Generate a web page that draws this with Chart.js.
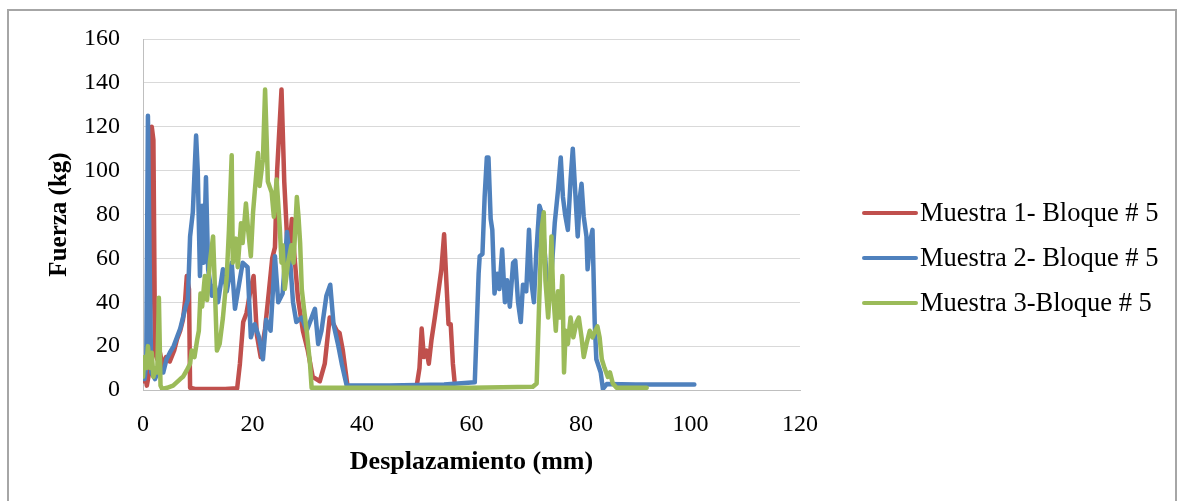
<!DOCTYPE html>
<html lang="es">
<head>
<meta charset="UTF-8">
<title>Fuerza vs desplazamiento - Bloque # 5</title>
<script src="https://cdn.jsdelivr.net/npm/chart.js"></script>
<style>
    body {
        margin: 0;
        background: #fff;
        font-family: 'Liberation Serif', 'Times New Roman', serif;
    }
    #wrap {
        position: relative;
        width: 1178px;
        height: 501px;
        overflow: hidden;
    }
    #marco {
        position: absolute;
        left: 7px;
        top: 9px;
        width: 1170px;
        height: 500px;
        border: 2px solid #a6a6a6;
        box-sizing: border-box;
        pointer-events: none;
    }
    #leyenda {
        position: absolute;
        left: 862px;
        top: 190px;
    }
    .item {
        display: flex;
        align-items: center;
        height: 45px;
        font-size: 26.5px;
        color: #000;
        white-space: nowrap;
    }
    .linea {
        display: inline-block;
        width: 56px;
        height: 4px;
        border-radius: 2px;
        margin-right: 2px;
    }
</style>
</head>
<body>
<div id="wrap">
    <canvas id="grafico" width="1178" height="501"></canvas>
    <div id="marco"></div>
    <div id="leyenda"></div>
</div>

<script>
    // [desplazamiento (mm), fuerza (kg)]
    const muestra1 = [
        [0, 4], [0.4, 7], [0.7, 2], [1.2, 9], [1.6, 120], [1.9, 114], [2.2, 17], [2.6, 14],
        [3.1, 17], [3.6, 11], [4.2, 15], [4.9, 13], [5.7, 18], [6.2, 23], [6.8, 27], [7.3, 32],
        [7.7, 41], [8.0, 52], [8.4, 46], [8.6, 1], [9.5, 0.5], [12, 0.5], [15, 0.5], [17.2, 0.8],
        [17.7, 12], [18.3, 31], [18.9, 35], [19.6, 45], [20.2, 52], [20.8, 25], [21.5, 15], [22.3, 28],
        [23.0, 45], [23.6, 60], [24.1, 65], [24.5, 100], [25.3, 137], [25.8, 95], [26.2, 75],
        [26.5, 58], [27.2, 78], [27.6, 63], [28.3, 42], [29.2, 27], [30.1, 18], [31.0, 6], [32.3, 4],
        [33.2, 12], [34.1, 33], [34.8, 30], [35.4, 27], [35.9, 26], [36.5, 18], [37.4, 1], [40, 1.2],
        [45, 1.5], [50.0, 2], [50.5, 10], [50.9, 28], [51.3, 15], [51.8, 18], [52.2, 12], [52.7, 23],
        [53.3, 33], [53.8, 42], [54.5, 55], [55.0, 71], [55.4, 50], [55.8, 30], [56.2, 30], [56.6, 12],
        [56.9, 4]
    ];
    const muestra2 = [
        [0, 10], [0.3, 5], [0.6, 12], [0.9, 125], [1.2, 60], [1.5, 8], [2.2, 5], [3, 10],
        [3.7, 8], [4.3, 14], [4.9, 17], [5.6, 20], [6.2, 24], [6.8, 28], [7.3, 33], [7.8, 38],
        [8.2, 41], [8.6, 70], [9.1, 81], [9.7, 116], [10, 100], [10.4, 52], [10.8, 84], [11.1, 58],
        [11.5, 97], [11.9, 55], [12.6, 43], [13.1, 48], [13.7, 40], [14.6, 55], [15.3, 45], [16.2, 58],
        [16.8, 37], [17.4, 46], [18.2, 58], [19.1, 56], [19.7, 24], [20.4, 30], [21.2, 24], [21.9, 14],
        [22.5, 32], [23.3, 27], [24.1, 61], [24.7, 40], [25.5, 44], [26.3, 72], [26.9, 58], [27.4, 40],
        [28, 31], [29, 33], [29.9, 27], [30.8, 33], [31.4, 37], [32, 21], [32.6, 27], [33.5, 43],
        [34.2, 48], [34.8, 30], [35.6, 21], [36.3, 12], [37.2, 2], [45, 2], [55, 2.5], [60.6, 3.5],
        [61.3, 53], [61.5, 61], [62, 62], [62.4, 88], [62.8, 106], [63.1, 106], [63.5, 78], [63.8, 73],
        [64.2, 44], [64.7, 53], [65.1, 46], [65.6, 64], [66.1, 40], [66.5, 50], [67, 38], [67.6, 58],
        [68, 59], [68.5, 40], [69, 31], [69.4, 48], [70, 45], [70.5, 73], [70.9, 50], [71.4, 40],
        [71.8, 61], [72.4, 84], [72.9, 80], [73.4, 62], [74, 43], [74.6, 53], [75.2, 76], [75.8, 91],
        [76.3, 106], [76.7, 88], [77.1, 80], [77.6, 73], [78.1, 96], [78.5, 110], [79, 88], [79.4, 70],
        [79.8, 88], [80.1, 94], [80.5, 79], [81, 70], [81.2, 55], [81.7, 68], [82.1, 73], [82.5, 31],
        [82.8, 14], [83.6, 8], [84, 0.5], [84.7, 2.7], [90, 2.5], [100.7, 2.5]
    ];
    const muestra3 = [
        [0, 6], [0.3, 15], [0.6, 10], [0.9, 20], [1.3, 10], [1.6, 17], [1.9, 6], [2.3, 10],
        [2.6, 8], [2.9, 42], [3.2, 2], [3.5, 0.5], [4.4, 1], [5.5, 2], [6.8, 5], [7.3, 6],
        [8, 9], [8.6, 12], [8.9, 18], [9.4, 15], [9.9, 23], [10.2, 27], [10.5, 44], [10.8, 38],
        [11.3, 52], [11.7, 41], [12.2, 58], [12.8, 70], [13.1, 49], [13.5, 18], [14, 21], [14.6, 33],
        [15.3, 52], [15.7, 73], [16.2, 107], [16.4, 58], [17, 69], [17.3, 56], [17.9, 76], [18.2, 67],
        [18.8, 85], [19.2, 73], [19.7, 61], [20.1, 81], [20.6, 96], [21, 108], [21.3, 93], [21.9, 105],
        [22.3, 137], [22.6, 113], [22.8, 95], [23.5, 90], [23.9, 79], [24.4, 96], [24.7, 85], [25, 73],
        [25.3, 58], [25.5, 66], [25.9, 46], [26.5, 58], [27.1, 66], [27.5, 58], [28.1, 88], [28.4, 79],
        [28.7, 67], [29, 46], [29.4, 37], [29.9, 27], [30.5, 12], [30.8, 1], [40, 1], [50, 1],
        [60, 1], [71.2, 1.5], [71.9, 3], [72.3, 35], [72.8, 73], [73.2, 81], [73.5, 50], [74, 33],
        [74.3, 45], [74.6, 70], [74.9, 45], [75.4, 27], [75.8, 45], [76.2, 33], [76.6, 52], [76.9, 8],
        [77.2, 27], [77.6, 21], [78.1, 33], [78.6, 24], [79.2, 31], [79.6, 33], [80.1, 24], [80.5, 15],
        [81, 21], [81.6, 27], [82.1, 24], [82.6, 27], [83, 29], [83.4, 24], [83.8, 14], [84.3, 10],
        [84.9, 6], [85.3, 8], [85.8, 3], [86.5, 1], [92, 1]
    ];

    const nombres = ['Muestra 1- Bloque # 5', 'Muestra 2- Bloque # 5', 'Muestra 3-Bloque # 5'];
    const colores = ['#C0504D', '#4F81BD', '#9BBB59'];
    const ejeX = { min: 0, max: 120, paso: 20, titulo: 'Desplazamiento (mm)' };
    const ejeY = { min: 0, max: 160, paso: 20, titulo: 'Fuerza (kg)' };

    const serif = "'Liberation Serif', 'Times New Roman', serif";
    const aPuntos = pares => pares.map(([x, y]) => ({ x, y }));

    const datasets = [muestra1, muestra2, muestra3].map((serie, i) => ({
        label: nombres[i],
        data: aPuntos(serie),
        borderColor: colores[i],
        backgroundColor: colores[i],
        borderWidth: 4.5,
        pointRadius: 0,
        tension: 0,
        borderJoinStyle: 'round',
        borderCapStyle: 'round',
        order: 3 - i   // la última serie queda encima
    }));

    const grafico = new Chart(document.getElementById('grafico'), {
        type: 'line',
        data: { datasets },
        options: {
            responsive: false,
            animation: false,
            layout: { padding: { left: 0, top: 39, right: 378, bottom: 0 } },
            plugins: {
                legend: { display: false },
                tooltip: { enabled: false }
            },
            scales: {
                x: {
                    type: 'linear',
                    min: ejeX.min,
                    max: ejeX.max,
                    afterFit: s => { s.height = 111; },
                    grid: { display: false, drawTicks: false },
                    border: { color: '#bfbfbf', width: 1 },
                    ticks: {
                        stepSize: ejeX.paso,
                        padding: 20,
                        color: '#000',
                        font: { family: serif, size: 24 }
                    },
                    title: {
                        display: true,
                        text: ejeX.titulo,
                        color: '#000',
                        padding: { top: 0, bottom: 23 },
                        font: { family: serif, size: 26, weight: 'bold' }
                    }
                },
                y: {
                    min: ejeY.min,
                    max: ejeY.max,
                    afterFit: s => { s.width = 143; },
                    grid: { color: '#d9d9d9', lineWidth: 1, drawTicks: false },
                    border: { color: '#bfbfbf', width: 1 },
                    ticks: {
                        stepSize: ejeY.paso,
                        padding: 23,
                        color: '#000',
                        font: { family: serif, size: 24 }
                    },
                    title: {
                        display: true,
                        text: ejeY.titulo,
                        color: '#000',
                        padding: { top: 45, bottom: 0 },
                        font: { family: serif, size: 25, weight: 'bold' }
                    }
                }
            }
        }
    });

    // leyenda a la derecha, armada con los mismos datasets
    const leyenda = document.getElementById('leyenda');
    grafico.data.datasets.forEach(ds => {
        const fila = document.createElement('div');
        fila.className = 'item';
        fila.innerHTML = `<span class="linea" style="background:${ds.borderColor}"></span>${ds.label}`;
        leyenda.appendChild(fila);
    });
</script>
</body>
</html>
